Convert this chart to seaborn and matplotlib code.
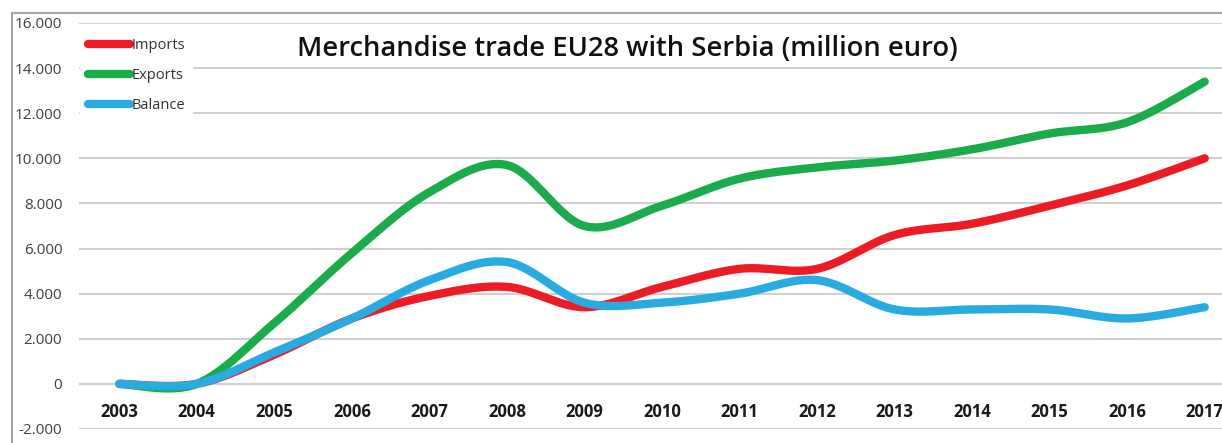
import numpy as np
import pandas as pd
import matplotlib
matplotlib.use("Agg")
import matplotlib.pyplot as plt
from matplotlib.lines import Line2D
from matplotlib.ticker import FuncFormatter
import seaborn as sns

'data read off the chart (million euro)'
years = list(range(2003, 2018))
imports = [0, 0, 1300, 2900, 3900, 4300, 3400, 4300, 5100, 5100, 6600, 7100, 7900, 8800, 10000]
exports = [0, 0, 2700, 5800, 8500, 9700, 7000, 7900, 9100, 9600, 9900, 10400, 11100, 11600, 13400]
balance = [0, 0, 1400, 2900, 4600, 5400, 3600, 3600, 4000, 4600, 3300, 3300, 3300, 2900, 3400]

series_names = ["Imports", "Exports", "Balance"]
colors = {"Imports": "#ED1C24", "Exports": "#1AAB4B", "Balance": "#29ABE2"}


def smooth(x, y, n=30):
    # excel style smoothed line (catmull-rom through the points)
    x = np.asarray(x, float)
    y = np.asarray(y, float)
    px = np.concatenate([[x[0]], x, [x[-1]]])
    py = np.concatenate([[y[0]], y, [y[-1]]])
    xs, ys = [], []
    t = np.linspace(0, 1, n, endpoint=False)
    for i in range(1, len(px) - 2):
        for p, out in ((px, xs), (py, ys)):
            p0, p1, p2, p3 = p[i - 1], p[i], p[i + 1], p[i + 2]
            c1 = p1 + (p2 - p0) / 6
            c2 = p2 - (p3 - p1) / 6
            out.extend((1 - t) ** 3 * p1 + 3 * (1 - t) ** 2 * t * c1
                       + 3 * (1 - t) * t ** 2 * c2 + t ** 3 * p2)
    xs.append(x[-1])
    ys.append(y[-1])
    return np.array(xs), np.array(ys)


frames = []
for name, vals in zip(series_names, [imports, exports, balance]):
    sx, sy = smooth(years, vals)
    frames.append(pd.DataFrame({"year": sx, "value": sy, "series": name}))
df = pd.concat(frames, ignore_index=True)

sns.set_theme(style="white")
plt.rcParams['font.family'] = ['Open Sans', 'DejaVu Sans']

fig = plt.figure(figsize=(12.22, 4.43), dpi=100)
ax = fig.add_axes([79 / 1222, 14 / 443, 1166 / 1222, 406 / 443])

for name in series_names:
    sub = df[df["series"] == name]
    sns.lineplot(data=sub, x="year", y="value", ax=ax, color=colors[name],
                 linewidth=6, label=name, sort=False, estimator=None,
                 solid_capstyle="round")

ax.set_xlim(2002.48, 2017.52)
ax.set_ylim(-2000, 16000)
ax.set_yticks(range(-2000, 16001, 2000))
ax.yaxis.set_major_formatter(FuncFormatter(lambda v, p: f"{v:,.0f}".replace(",", ".")))
ax.grid(axis="y", color="#d0d0d0", linewidth=1.5)
ax.grid(axis="x", visible=False)
ax.set_axisbelow(True)
for s in ax.spines.values():
    s.set_visible(False)
ax.spines["bottom"].set_position(("data", 0))
ax.tick_params(axis="y", length=0, pad=12, labelsize=11, labelcolor="#404040")
ax.tick_params(axis="x", length=0, pad=14)
ax.set_xlabel("")
ax.set_ylabel("")
ax.set_xticks(years, [str(y) for y in years], fontweight="bold",
              fontsize=12, color="#1a1a1a")

leg = ax.legend(loc="upper left", bbox_to_anchor=(0, 0.985), borderaxespad=0.1,
                frameon=True, fontsize=10.5, handlelength=2.9, handletextpad=0.1,
                labelspacing=1.05, borderpad=0.5)
leg.get_frame().set_edgecolor("white")
leg.get_frame().set_facecolor("white")
leg.get_frame().set_alpha(1)
for t in leg.get_texts():
    t.set_color("#333333")

ax.text(0.47, 0.935, "Merchandise trade EU28 with Serbia (million euro)",
        transform=ax.transAxes, ha="center", va="center", fontsize=19.7,
        fontweight="semibold", color="#111111")

# chart area border (cropped on right and bottom)
fig.add_artist(Line2D([12 / 1222, 12 / 1222], [0, 1 - 13 / 443], transform=fig.transFigure,
                      color="#a6a6a6", linewidth=1.5))
fig.add_artist(Line2D([12 / 1222, 1], [1 - 13 / 443, 1 - 13 / 443], transform=fig.transFigure,
                      color="#a6a6a6", linewidth=1.5))

fig.savefig("out.png", dpi=100)
